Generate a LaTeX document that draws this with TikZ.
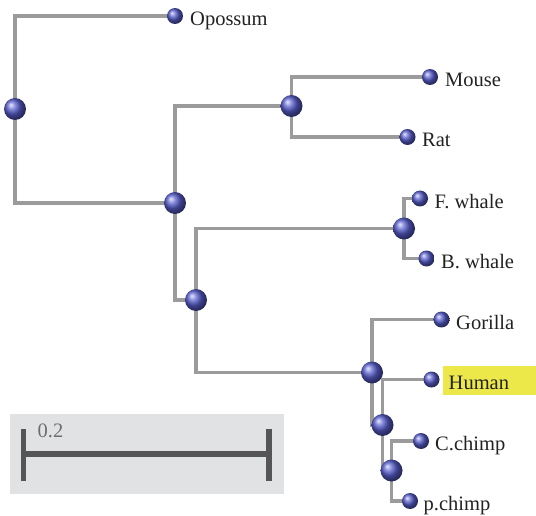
\documentclass[tikz,border=0pt]{standalone}
\usepackage{fontspec}
\setmainfont{Liberation Serif}
\usetikzlibrary{backgrounds}
\definecolor{branch}{HTML}{9B9B9B}
\definecolor{ballblue}{RGB}{88,94,205}
\definecolor{txt}{HTML}{222222}
\definecolor{boxgray}{HTML}{E1E2E4}
\definecolor{bargray}{HTML}{555558}
\definecolor{hilite}{HTML}{EDE84A}
\tikzset{
  inner/.style={circle,minimum size=22pt,inner sep=0pt,shading=ball,ball color=ballblue},
  leaf/.style={circle,minimum size=16pt,inner sep=0pt,shading=ball,ball color=ballblue},
  edge/.style={draw=branch,line width=3.2pt},
  lbl/.style={anchor=base west,inner sep=0pt,text=txt,font=\fontsize{20.5}{24}\selectfont},
  bar/.style={draw=bargray,line width=5.5pt}
}
\begin{document}
\begin{tikzpicture}[x=1pt,y=-1pt]
\useasboundingbox (0,0) rectangle (536,516);
% internal nodes
\node[inner] (root) at (15,109) {};
\node[inner] (A) at (175,203) {};
\node[inner] (mr) at (291.5,106) {};
\node[inner] (B) at (196,300) {};
\node[inner] (wh) at (404,228.5) {};
\node[inner] (ape) at (372,372.5) {};
\node[inner] (C) at (382.5,425) {};
\node[inner] (D) at (391.5,470.5) {};
% leaves
\node[leaf] (opo) at (175,16) {};
\node[leaf] (mouse) at (430,77) {};
\node[leaf] (rat) at (407.5,137) {};
\node[leaf] (fw) at (420,198.5) {};
\node[leaf] (bw) at (426.5,258.5) {};
\node[leaf] (gor) at (441.5,319.5) {};
\node[leaf] (hum) at (431.5,379.5) {};
\node[leaf] (cc) at (421,441) {};
\node[leaf] (pc) at (410,501) {};
% labels
\node[lbl] (lopo) at (190,26) {Opossum};
\node[lbl] (lmouse) at (445,86.5) {Mouse};
\node[lbl] (lrat) at (422,146.5) {Rat};
\node[lbl] (lfw) at (434.5,208) {F. whale};
\node[lbl] (lbw) at (441,268) {B. whale};
\node[lbl] (lgor) at (456,329) {Gorilla};
\node[anchor=west,fill=hilite,minimum width=93pt,minimum height=29pt,inner sep=0pt] (hbox) at (443,380.5) {};
\node[lbl] (lhum) at (448.5,389.5) {Human};
\node[lbl] (lcc) at (435,450.5) {C.chimp};
\node[lbl] (lpc) at (423.5,510.5) {p.chimp};
% branches
\begin{scope}[on background layer]
\draw[edge] (root.center) |- (opo.center);
\draw[edge] (root.center) |- (A.center);
\draw[edge] (A.center) |- (mr.center);
\draw[edge] (A.center) |- (B.center);
\draw[edge] (mr.center) |- (mouse.center);
\draw[edge] (mr.center) |- (rat.center);
\draw[edge] (B.center) |- (wh.center);
\draw[edge] (B.center) |- (ape.center);
\draw[edge] (wh.center) |- (fw.center);
\draw[edge] (wh.center) |- (bw.center);
\draw[edge] (ape.center) |- (gor.center);
\draw[edge] (ape.center) |- (C.center);
\draw[edge] (C.center) |- (hum.center);
\draw[edge] (C.center) |- (D.center);
\draw[edge] (D.center) |- (cc.center);
\draw[edge] (D.center) |- (pc.center);
\end{scope}
% scale bar
\node[fill=boxgray,anchor=north west,minimum width=274pt,minimum height=80pt,inner sep=0pt] (sbox) at (9.5,414) {};
\coordinate (t1a) at (23.5,428.5);
\coordinate (t1b) at (23.5,481);
\coordinate (t2a) at (269,428.5);
\coordinate (t2b) at (269,481);
\draw[bar] (t1a) -- (t1b);
\draw[bar] (t2a) -- (t2b);
\draw[bar] (t1a |- 0,454) coordinate (b1) -- (t2a |- 0,454) coordinate (b2);
\node[lbl,text=bargray!85] (scl) at (37.5,437.5) {0.2};
\end{tikzpicture}
\end{document}
